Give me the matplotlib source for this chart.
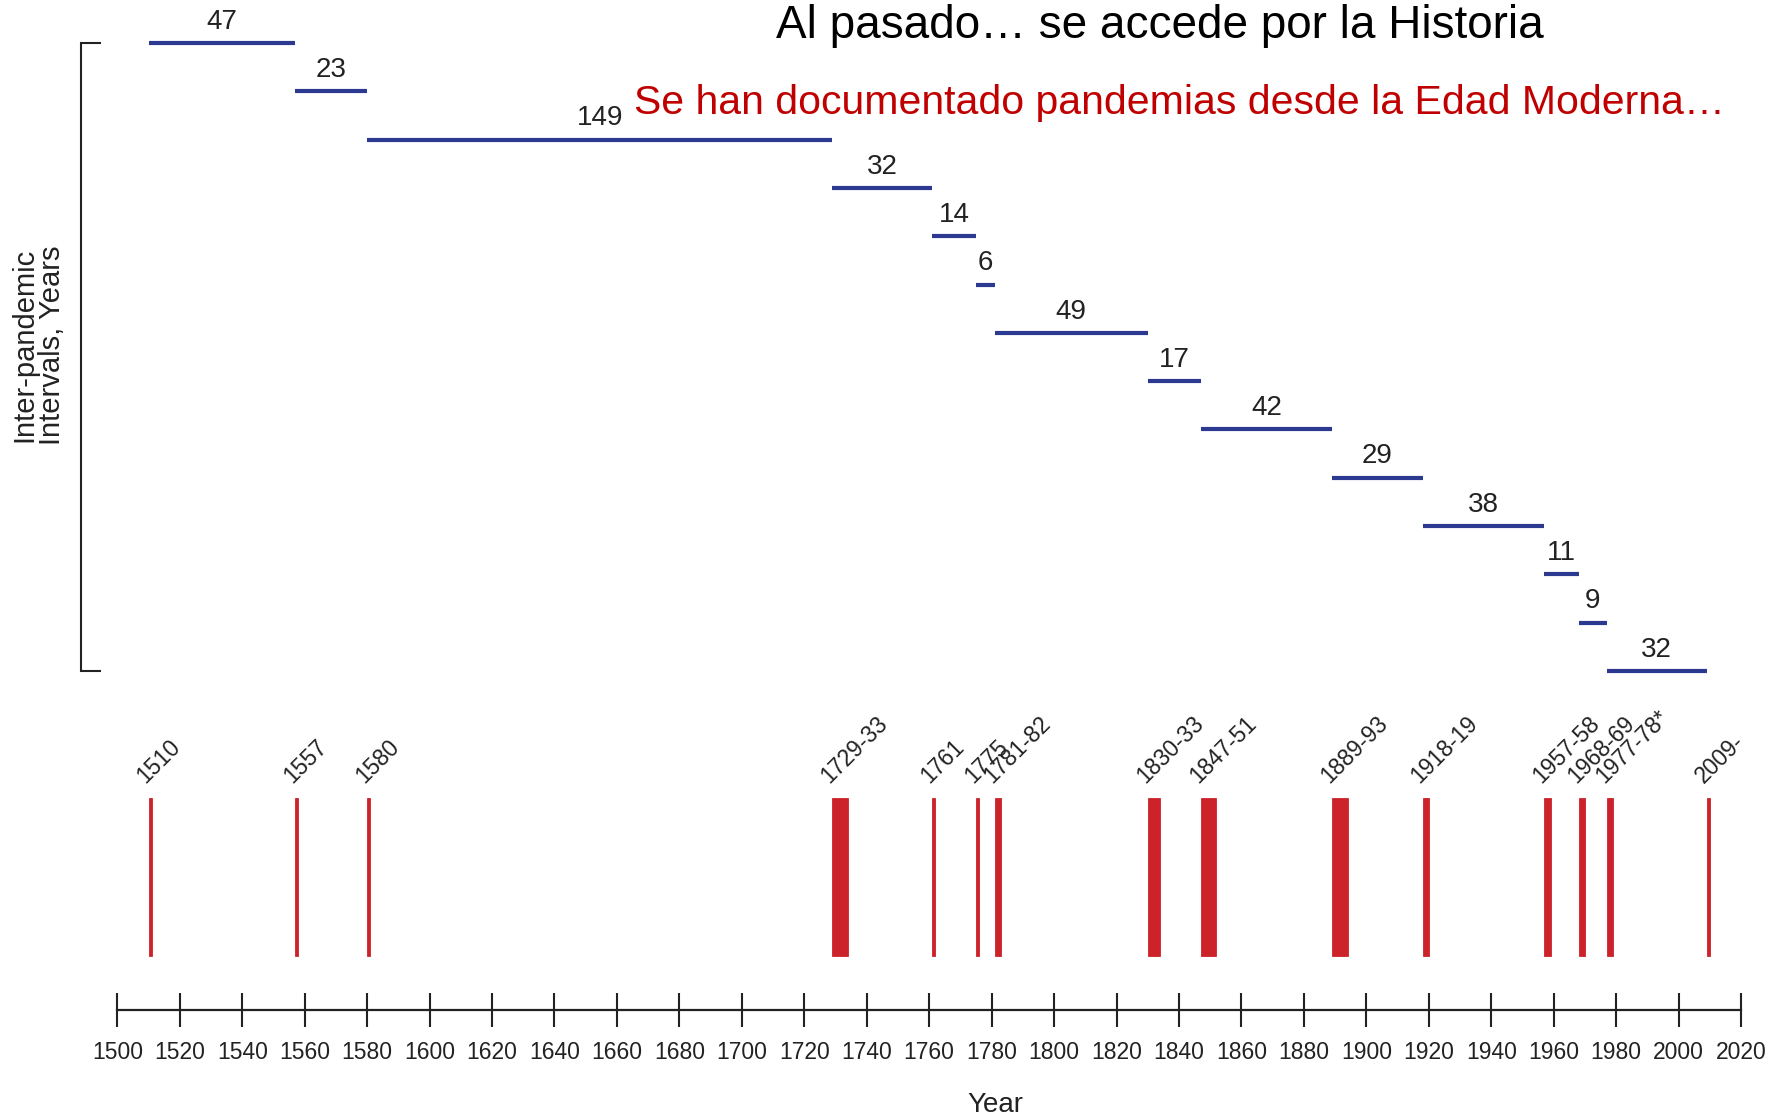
import matplotlib
matplotlib.use("Agg")
import matplotlib.pyplot as plt

# pandemics (start / end year) and their labels
event_labels = ['1510', '1557', '1580', '1729-33', '1761', '1775', '1781-82',
                '1830-33', '1847-51', '1889-93', '1918-19', '1957-58',
                '1968-69', '1977-78*', '2009-']
start_years = [1510, 1557, 1580, 1729, 1761, 1775, 1781, 1830, 1847, 1889,
               1918, 1957, 1968, 1977, 2009]
end_years = [1510, 1557, 1580, 1733, 1761, 1775, 1782, 1833, 1851, 1893,
             1919, 1958, 1969, 1978, 2009]

# inter-pandemic intervals as written on the chart
interval_labels = ['47', '23', '149', '32', '14', '6', '49', '17', '42',
                   '29', '38', '11', '9', '32']

tick_years = [1500, 1520, 1540, 1560, 1580, 1600, 1620, 1640, 1660, 1680,
              1700, 1720, 1740, 1760, 1780, 1800, 1820, 1840, 1860, 1880,
              1900, 1920, 1940, 1960, 1980, 2000, 2020]

RED = '#cc2229'
BLUE = '#2b3990'
INK = '#222222'
SANS = ['Liberation Sans', 'DejaVu Sans']

W, H = 1783, 1119
fig = plt.figure(figsize=(W / 100, H / 100), dpi=100)
fig.patch.set_facecolor('white')

x0, x1 = 117.3, 1741.0      # pixel positions of 1500 and 2020
axis_y = 1010.0
bar_top = 798.0

# timeline + red bars
ax = fig.add_axes([x0 / W, (H - axis_y) / H, (x1 - x0) / W, (axis_y - bar_top) / H])
ax.set_xlim(1500, 2020)
ax.set_ylim(0, 1)
for s in ['left', 'right', 'top']:
    ax.spines[s].set_visible(False)
ax.spines['bottom'].set_linewidth(1.6)
ax.spines['bottom'].set_color(INK)
ax.set_yticks([])
ax.set_xticks(tick_years)
ax.set_xticklabels([str(t) for t in tick_years], family=SANS, fontsize=16.5, color=INK)
ax.tick_params(axis='x', direction='inout', length=24, width=1.5, color=INK, pad=10)
ax.set_xlabel('Year', family=SANS, fontsize=20, color=INK)
ax.xaxis.set_label_coords(0.541, -0.385)

widths = [e - s + 1 for s, e in zip(start_years, end_years)]
ax.bar(start_years, 0.745, width=widths, bottom=0.255, align='edge',
       color=RED, edgecolor=RED, linewidth=0.6)

for lab, s in zip(event_labels, start_years):
    ax.annotate(lab, xy=(s, 1.0), xytext=(-2, 10), textcoords='offset points',
                rotation=45, rotation_mode='anchor', ha='left', va='baseline',
                family=SANS, fontsize=16.5, color=INK, annotation_clip=False)

# inter-pandemic intervals
top_line, bottom_line = 43.0, 671.0
ax_int = fig.add_axes([x0 / W, (H - bottom_line) / H, (x1 - x0) / W,
                       (bottom_line - top_line) / H])
ax_int.set_xlim(1500, 2020)
n = len(interval_labels)
ax_int.set_ylim(n - 1, 0)
for s in ['right', 'top', 'bottom']:
    ax_int.spines[s].set_visible(False)
ax_int.spines['left'].set_position(('outward', 26))
ax_int.spines['left'].set_linewidth(1.5)
ax_int.spines['left'].set_color(INK)
ax_int.set_xticks([])
ax_int.set_yticks([0, n - 1])
ax_int.set_yticklabels([])
ax_int.tick_params(axis='y', direction='in', length=14.5, width=1.5, color=INK)
ax_int.patch.set_alpha(0)

for i, lab in enumerate(interval_labels):
    a, b = start_years[i], start_years[i + 1]
    ax_int.hlines(i, a, b, color=BLUE, linewidth=3, clip_on=False)
    ax_int.annotate(lab, xy=((a + b) / 2, i), xytext=(0, 6), textcoords='offset points',
                    ha='center', va='bottom', family=SANS, fontsize=20, color=INK,
                    annotation_clip=False)

fig.text(38 / W, 1 - 345 / H, 'Inter-pandemic\nIntervals, Years', rotation=90,
         ha='center', va='center', multialignment='center', linespacing=1.0,
         family=SANS, fontsize=21, color=INK)

# titles
fig.text(1160 / W, 1 - 37.5 / H, 'Al pasado… se accede por la Historia',
         ha='center', va='baseline', family=SANS, fontsize=33, color='black')
fig.text(1180 / W, 1 - 114 / H, 'Se han documentado pandemias desde la Edad Moderna…',
         ha='center', va='baseline', family=SANS, fontsize=29.5, color='#c00000')

fig.savefig('out.png', dpi=100, facecolor='white')
